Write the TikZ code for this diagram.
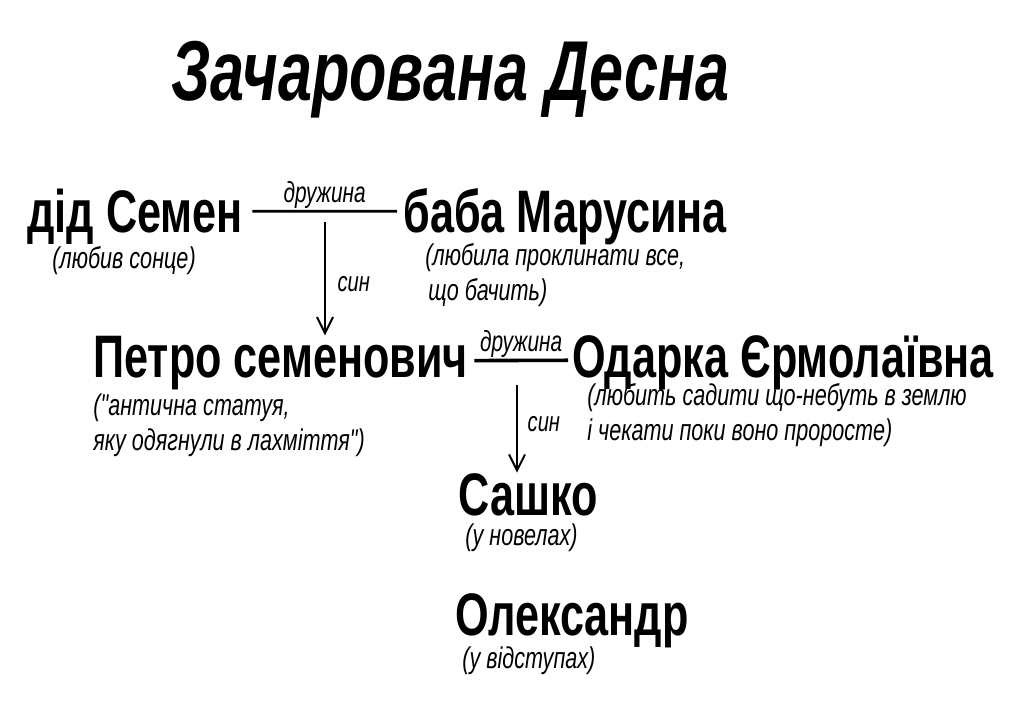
\documentclass[tikz,border=0pt]{standalone}
\usepackage{fontspec}
\setmainfont{Liberation Sans}[FakeStretch=0.72,Ligatures=TeXOff]
\usetikzlibrary{arrows.meta}

\begin{document}
\begin{tikzpicture}[x=0.5pt,y=-0.5pt,
  person/.style={anchor=base west,inner sep=0pt,font=\bfseries\fontsize{30}{30}\selectfont},
  note/.style={anchor=base west,inner sep=0pt,font=\itshape\fontsize{15}{18}\selectfont},
  rel/.style={anchor=base,inner sep=0pt,font=\itshape\fontsize{14.5}{15}\selectfont},
  wed/.style={line width=1.4pt},
  son/.style={-{Straight Barb[length=8pt,width=8pt]},line width=1pt}]
\useasboundingbox (0,0) rectangle (1024,725);

\node[anchor=base west,inner sep=0pt,font=\bfseries\itshape\fontsize{42.5}{42}\selectfont] (title) at (171,100) {Зачарована Десна};

% перше покоління
\node[person] (ded) at (27,232) {дід Семен};
\node[person] (baba) at (403,232) {баба Марусина};
\node[note] (ded1) at (52,268) {(любив сонце)};
\node[note] (baba1) at (425,265) {(любила проклинати все,};
\node[note] (baba2) at (428,300) {що бачить)};
\draw[wed] ([xshift=4.5pt,yshift=2.5pt]ded.east) -- ([xshift=-3pt,yshift=2.5pt]baba.west)
  node[rel,midway,yshift=4.5pt] {дружина};
\coordinate (m1) at (325,222);

% друге покоління
\node[person] (petro) at (93,377) {Петро семенович};
\node[person] (odarka) at (572,377) {Одарка Єрмолаївна};
\node[note] (petro1) at (93,415) {("антична статуя,};
\node[note] (petro2) at (93,450) {яку одягнули в лахміття")};
\node[note] (odarka1) at (587,405) {(любить садити що-небуть в землю};
\node[note] (odarka2) at (587,440) {і чекати поки воно проросте)};
\draw[son] (m1) -- (m1 |- petro.north) node[pos=0.55,anchor=west,xshift=2.5pt,font=\itshape\fontsize{14}{14}\selectfont] {син};
\draw[wed,line width=1.8pt] ([xshift=3pt,yshift=1pt]petro.east) -- ([xshift=-2pt,yshift=1pt]odarka.west)
  node[rel,midway,yshift=4.5pt] {дружина};
\coordinate (m2) at (517,385);

% третє покоління
\node[person] (sashko) at (458,515) {Сашко};
\node[note] (sashko1) at (465,545) {(у новелах)};
\node[person] (oleks) at (455,635) {Олександр};
\node[note] (oleks1) at (462,668) {(у відступах)};
\draw[son] (m2) -- (m2 |- sashko.north) node[pos=0.45,anchor=west,xshift=1.5pt,font=\itshape\fontsize{14}{14}\selectfont] {син};
\end{tikzpicture}
\end{document}
